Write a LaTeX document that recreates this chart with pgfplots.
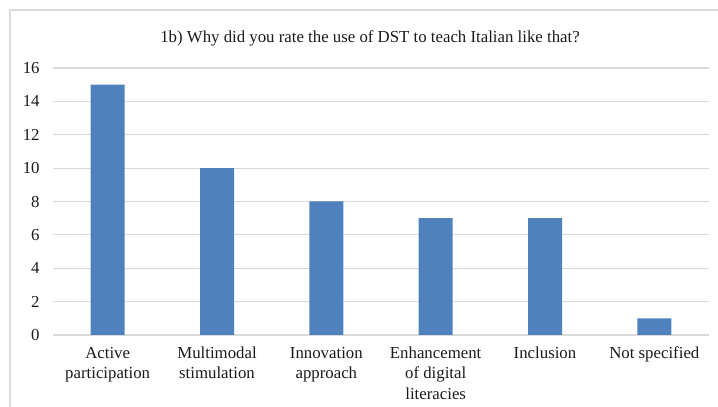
\documentclass[border=0pt]{standalone}
\usepackage{pgfplots}
\pgfplotsset{compat=1.18}
\usepackage{fontspec}
\setmainfont{Liberation Serif}
\definecolor{barblue}{HTML}{4F81BD}
\definecolor{gridgray}{HTML}{D9D9D9}
\definecolor{txt}{HTML}{1A1A1A}
\begin{document}
\begin{tikzpicture}
\useasboundingbox (0,0) rectangle (538.5pt,305.25pt);
\draw[gridgray, line width=0.8pt] (7.5pt,0) -- (7.5pt,297.75pt) -- (538.5pt,297.75pt);
\node[font=\fontsize{12.6}{15}\selectfont, text=txt] at (277.5pt,276.5pt) {1b) Why did you rate the use of DST to teach Italian like that?};
\begin{axis}[
  at={(39.75pt,54pt)}, anchor=south west,
  scale only axis, width=492pt, height=200.25pt,
  xmin=-0.5, xmax=5.5, ymin=0, ymax=16,
  ytick={0,2,...,16},
  xtick={0,1,2,3,4,5},
  xticklabels={Active\\participation, Multimodal\\stimulation, Innovation\\approach, Enhancement\\of digital\\literacies, Inclusion, Not specified},
  xticklabel style={align=center, font=\fontsize{12.6}{15.2}\selectfont, text=txt, anchor=north, yshift=-5.5pt},
  yticklabel style={font=\fontsize{12.6}{15}\selectfont, text=txt, xshift=-6.5pt},
  /pgf/number format/assume math mode=true,
  axis line style={draw=none},
  major tick length=0pt,
  ymajorgrids, grid style={gridgray, line width=0.8pt},
  ybar, bar width=25.5pt,
  clip=false,
]
\addplot[fill=barblue, draw=none] coordinates {(0,15) (1,10) (2,8) (3,7) (4,7) (5,1)};
\end{axis}
\end{tikzpicture}
\end{document}
